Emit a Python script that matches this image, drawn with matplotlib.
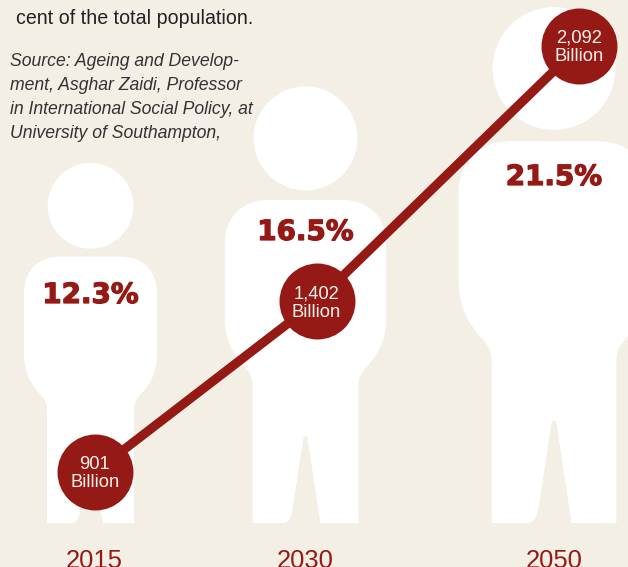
import numpy as np
import matplotlib
matplotlib.use("Agg")
import matplotlib.pyplot as plt
from matplotlib.patches import Circle, PathPatch
from matplotlib.path import Path
import matplotlib.patheffects as pe

# chart values
years = [2015, 2030, 2050]
elderly_billion = [901, 1402, 2092]
population_share = [12.3, 16.5, 21.5]

intro_text = "cent of the total population."
source_lines = [
    "Source: Ageing and Develop-",
    "ment, Asghar Zaidi, Professor",
    "in International Social Policy, at",
    "University of Southampton,",
]

BG = "#F3EFE5"
RED = "#951915"
W, H = 628, 567
GROUND = 523

# person placement, in pixels
person_x = [90.5, 305.5, 554]
share_label_y = [295, 232, 177]
year_label_x = [94, 305, 554]

YEAR_POWER = 0.8
VALUE_POWER = 1.2


def person_height(share):
    """Silhouette height in pixels for a population share."""
    return 138 * np.sqrt(share) - 124


def person_path(cx, height):
    """Body outline, built from the right half going round, height 1 = full figure."""
    pts = [
        (-0.121, 0.0),
        (-0.052, 0.0), (-0.034, 0.0), (-0.030, 0.030),
        (-0.004, 0.198),
        (0.004, 0.198),
        (0.034, 0.0),
        (0.121, 0.0),
        (0.121, 0.315),
        (0.121, 0.345), (0.140, 0.355), (0.150, 0.370),
        (0.172, 0.395), (0.185, 0.430), (0.185, 0.470),
        (0.185, 0.640),
        (0.185, 0.700), (0.145, 0.740), (0.085, 0.740),
        (-0.085, 0.740),
        (-0.145, 0.740), (-0.185, 0.700), (-0.185, 0.640),
        (-0.185, 0.470),
        (-0.185, 0.430), (-0.172, 0.395), (-0.150, 0.370),
        (-0.140, 0.355), (-0.121, 0.345), (-0.121, 0.315),
        (-0.121, 0.0),
    ]
    codes = [
        Path.MOVETO,
        Path.LINETO, Path.CURVE3, Path.CURVE3,
        Path.LINETO,
        Path.LINETO,
        Path.LINETO,
        Path.LINETO,
        Path.LINETO,
        Path.CURVE4, Path.CURVE4, Path.CURVE4,
        Path.CURVE4, Path.CURVE4, Path.CURVE4,
        Path.LINETO,
        Path.CURVE4, Path.CURVE4, Path.CURVE4,
        Path.LINETO,
        Path.CURVE4, Path.CURVE4, Path.CURVE4,
        Path.LINETO,
        Path.CURVE4, Path.CURVE4, Path.CURVE4,
        Path.CURVE4, Path.CURVE4, Path.CURVE4,
        Path.LINETO,
    ]
    verts = [(cx + x * height, GROUND - y * height) for x, y in pts]
    return Path(verts, codes)


def power_limits(v0, v1, p0, p1, size, power):
    """Axis limits so that v0 and v1 land on pixels p0 and p1 of a power scale."""
    slope = (v1 ** power - v0 ** power) / (p1 - p0)
    lo = v0 ** power - p0 * slope
    hi = lo + size * slope
    return lo ** (1 / power), hi ** (1 / power)


plt.rcParams["font.family"] = ["Liberation Sans", "DejaVu Sans"]
fig = plt.figure(figsize=(W / 100, H / 100), dpi=100, facecolor=BG)

# pixel axes for the silhouettes and the text
ax = fig.add_axes([0, 0, 1, 1])
ax.set_xlim(0, W)
ax.set_ylim(H, 0)
ax.axis("off")

for cx, share, label_y in zip(person_x, population_share, share_label_y):
    h = person_height(share)
    ax.add_patch(PathPatch(person_path(cx, h), fc="white", ec="none", zorder=1))
    head_r = 0.119 * h
    ax.add_patch(Circle((cx, GROUND - h + head_r), head_r, fc="white", ec="none", zorder=1))
    ax.text(cx, label_y, f"{share}%", color=RED, fontsize=20, fontweight="bold",
            family="DejaVu Sans", ha="center", va="center", zorder=5,
            path_effects=[pe.withStroke(linewidth=0.9, foreground=RED)])

ax.text(16, 18, intro_text, color="#222222", fontsize=14.1, va="center", ha="left")
for i, line in enumerate(source_lines):
    ax.text(10, 62 + i * 24, line, color="#333333", fontsize=12.7, style="italic",
            va="center", ha="left")

for x, year in zip(year_label_x, years):
    ax.text(x, 568, str(year), color=RED, fontsize=18.4, ha="center", va="baseline")

# overlay axes holding the growth line
ax2 = fig.add_axes([0, 0, 1, 1])
ax2.patch.set_alpha(0)
ax2.set_xscale("function", functions=(
    lambda v: np.maximum(v - 2000, 1e-6) ** YEAR_POWER,
    lambda v: np.maximum(v, 1e-6) ** (1 / YEAR_POWER) + 2000))
ax2.set_yscale("function", functions=(
    lambda v: np.maximum(v, 1e-6) ** VALUE_POWER,
    lambda v: np.maximum(v, 1e-6) ** (1 / VALUE_POWER)))
x_lo, x_hi = power_limits(15, 50, 94.8, 579.5, W, YEAR_POWER)
ax2.set_xlim(x_lo + 2000, x_hi + 2000)
ax2.set_ylim(*power_limits(901, 2092, H - 472, H - 46, H, VALUE_POWER))
ax2.axis("off")

ax2.plot(years, elderly_billion, color=RED, lw=6.6, solid_capstyle="butt", zorder=3)
ax2.plot(years, elderly_billion, "o", color=RED, ms=54.7, mec="none", zorder=4, clip_on=False)
for year, value in zip(years, elderly_billion):
    ax2.annotate(f"{value:,}\nBillion", (year, value), xytext=(0, -1), textcoords="offset points",
                 color="#F8F4EC", fontsize=13.2, ha="center", va="center",
                 linespacing=1.12, zorder=6)

fig.savefig("out.png", dpi=100, facecolor=BG)
